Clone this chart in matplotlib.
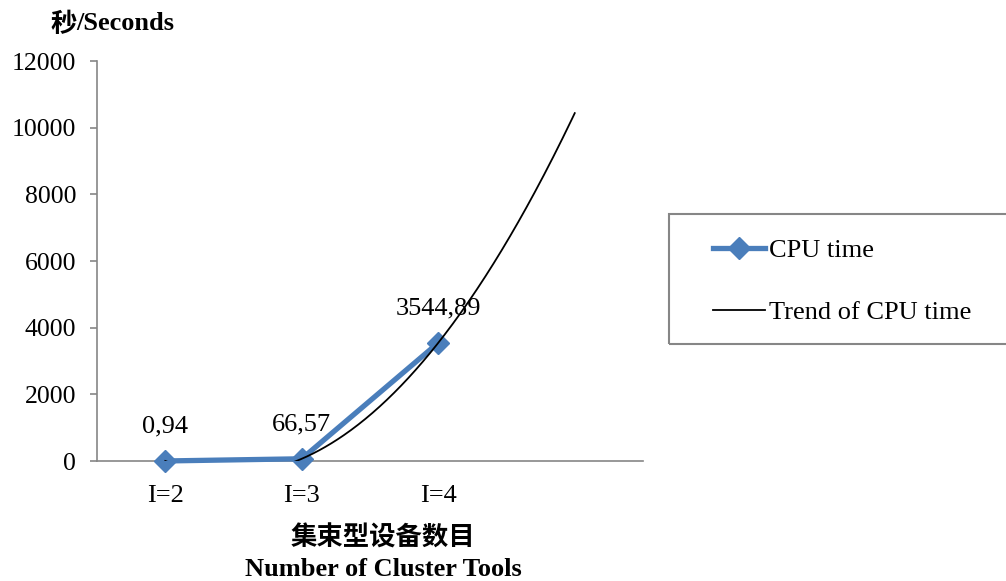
import numpy as np
import matplotlib
matplotlib.use("Agg")
import matplotlib.pyplot as plt
from matplotlib.patches import Rectangle
from matplotlib.lines import Line2D

categories = ["I=2", "I=3", "I=4", ""]
cpu_time = [0.94, 66.57, 3544.89]
value_labels = ["0,94", "66,57", "3544,89"]
y_ticks = [0, 2000, 4000, 6000, 8000, 10000, 12000]

SERIF = ["Liberation Serif", "DejaVu Serif"]
CJK = ["Noto Sans CJK SC", "DejaVu Sans"]
BLUE = "#4A7EBB"
GRAY = "#868686"
FS = 19

W, H = 1006, 581
fig = plt.figure(figsize=(W / 100, H / 100), dpi=100)
ax = fig.add_axes([97 / W, 1 - 461 / H, 546 / W, 400 / H])

x = np.arange(len(cpu_time))
ax.plot(x, cpu_time, color=BLUE, lw=3.8, marker="D", ms=11,
        markeredgecolor=BLUE, zorder=3, solid_joinstyle="round",
        clip_on=False)

# second-order polynomial trend, forecast one period forward
coef = np.polyfit(x, cpu_time, 2)
xt = np.linspace(0, len(cpu_time), 400)
ax.plot(xt, np.polyval(coef, xt), color="black", lw=1.3, zorder=4)

for xi, yi, lab in zip(x, cpu_time, value_labels):
    ax.annotate(lab, (xi, yi), xytext=(0, 17), textcoords="offset points",
                ha="center", va="bottom", fontsize=FS, family=SERIF)

ax.set_xlim(-0.5, len(categories) - 0.5)
ax.set_ylim(0, 12000)
ax.set_yticks(y_ticks)
ax.set_yticklabels([str(t) for t in y_ticks], fontsize=18.5, family=SERIF)
ax.set_xticks(np.arange(len(categories)))
ax.set_xticklabels(categories, fontsize=FS, family=SERIF)
ax.tick_params(axis="x", length=0, pad=17)
ax.tick_params(axis="y", length=5, color=GRAY, width=1.2, pad=10)

for s in ("top", "right"):
    ax.spines[s].set_visible(False)
for s in ("left", "bottom"):
    ax.spines[s].set_color(GRAY)
    ax.spines[s].set_linewidth(1.2)

fig.text(50 / W, 1 - 24 / H, "秒", family=CJK, fontsize=FS, weight="bold",
         ha="left", va="center")
fig.text(76 / W, 1 - 24 / H, "/Seconds", family=SERIF, fontsize=FS,
         weight="bold", ha="left", va="center")

fig.text(383 / W, 1 - 538 / H, "集束型设备数目", family=CJK, fontsize=FS,
         weight="bold", ha="center", va="center")
fig.text(383 / W, 1 - 570 / H, "Number of Cluster Tools", family=SERIF,
         fontsize=FS, weight="bold", ha="center", va="center")

# legend box
fig.patches.append(Rectangle((669 / W, 1 - 344 / H), 345 / W, 130 / H,
                             transform=fig.transFigure, fill=False,
                             edgecolor=GRAY, lw=1.5))
handles = [
    Line2D([], [], color=BLUE, lw=3.8, marker="D", ms=11),
    Line2D([], [], color="black", lw=1.3),
]
fig.legend(handles, ["CPU time", "Trend of CPU time"], loc="upper left",
           bbox_to_anchor=(702 / W, 1 - 228 / H), frameon=False,
           prop={"family": SERIF, "size": FS}, handlelength=2.0,
           handletextpad=0.15, labelspacing=1.45, borderaxespad=0)

fig.savefig("out.png", dpi=100)
